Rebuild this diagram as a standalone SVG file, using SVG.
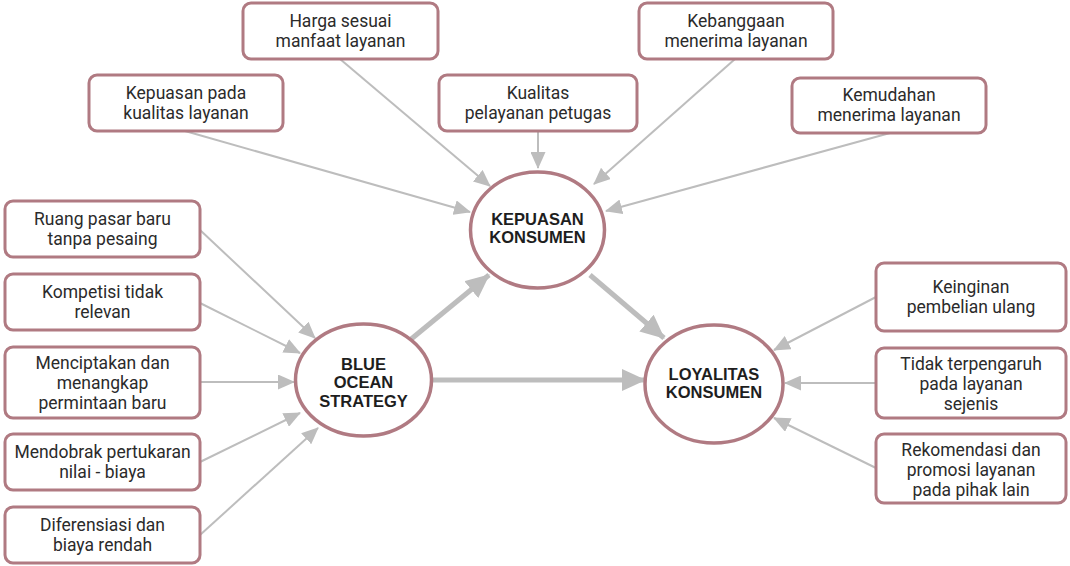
<svg xmlns="http://www.w3.org/2000/svg" width="1070" height="566" viewBox="0 0 1070 566">
  <style>
    .box { fill: #ffffff; stroke: #b07a82; stroke-width: 3; }
    .hub { fill: #ffffff; stroke: #b07a82; stroke-width: 3.5; }
    .lbl { font-family: Roboto, "Liberation Sans", sans-serif; font-size: 17.5px; fill: #2b2b2b; text-anchor: middle; }
    .hubl { font-family: "Liberation Sans", Arial, sans-serif; font-size: 16.5px; font-weight: bold; fill: #1e1e1e; text-anchor: middle; }
    .thin { stroke: #bdbdbd; stroke-width: 2; fill: none; marker-end: url(#ah); }
    .thick { stroke: #bdbdbd; stroke-width: 5; fill: none; marker-end: url(#ahb); }
  </style>
  <defs>
    <marker id="ah" markerUnits="userSpaceOnUse" markerWidth="17" markerHeight="15" refX="16" refY="7.5" orient="auto">
      <path d="M0,0 L17,7.5 L0,15 Z" fill="#bdbdbd"/>
    </marker>
    <marker id="ahb" markerUnits="userSpaceOnUse" markerWidth="24" markerHeight="22" refX="23" refY="11" orient="auto">
      <path d="M0,0 L24,11 L0,22 Z" fill="#bdbdbd"/>
    </marker>
  </defs>
  <rect width="1070" height="566" fill="#ffffff"/>

  <g id="connectors">
    <line class="thin" x1="185" y1="131" x2="470" y2="212"/>
    <line class="thin" x1="340" y1="59" x2="490" y2="186"/>
    <line class="thin" x1="538" y1="131" x2="538" y2="168"/>
    <line class="thin" x1="735" y1="59" x2="594" y2="184"/>
    <line class="thin" x1="890" y1="133" x2="606" y2="211"/>
    <line class="thin" x1="200" y1="230" x2="315" y2="338"/>
    <line class="thin" x1="200" y1="303" x2="300" y2="353"/>
    <line class="thin" x1="200" y1="382" x2="294" y2="382"/>
    <line class="thin" x1="200" y1="462" x2="300" y2="413"/>
    <line class="thin" x1="200" y1="535" x2="318" y2="428"/>
    <line class="thin" x1="876" y1="297" x2="774" y2="350"/>
    <line class="thin" x1="876" y1="383" x2="785" y2="383"/>
    <line class="thin" x1="876" y1="468" x2="774" y2="418"/>
    <line class="thick" x1="410" y1="340" x2="489" y2="275"/>
    <line class="thick" x1="590" y1="275" x2="664" y2="338"/>
    <line class="thick" x1="432" y1="380" x2="645" y2="380"/>
  </g>

  <g id="n-harga">
    <rect class="box" x="243" y="3" width="195" height="56" rx="8"/>
    <text class="lbl" x="340.5" y="27">Harga sesuai</text>
    <text class="lbl" x="340.5" y="47">manfaat layanan</text>
  </g>
  <g id="n-kebanggaan">
    <rect class="box" x="639" y="3" width="194" height="56" rx="8"/>
    <text class="lbl" x="736" y="27">Kebanggaan</text>
    <text class="lbl" x="736" y="47">menerima layanan</text>
  </g>
  <g id="n-kepuasan-pada">
    <rect class="box" x="89" y="75" width="194" height="56" rx="8"/>
    <text class="lbl" x="186" y="99">Kepuasan pada</text>
    <text class="lbl" x="186" y="119">kualitas layanan</text>
  </g>
  <g id="n-kualitas">
    <rect class="box" x="439" y="75" width="198" height="56" rx="8"/>
    <text class="lbl" x="538" y="99">Kualitas</text>
    <text class="lbl" x="538" y="119">pelayanan petugas</text>
  </g>
  <g id="n-kemudahan">
    <rect class="box" x="792" y="78" width="194" height="55" rx="8"/>
    <text class="lbl" x="889" y="101">Kemudahan</text>
    <text class="lbl" x="889" y="121">menerima layanan</text>
  </g>

  <g id="n-ruang">
    <rect class="box" x="5" y="201" width="195" height="56" rx="8"/>
    <text class="lbl" x="102.5" y="225">Ruang pasar baru</text>
    <text class="lbl" x="102.5" y="245">tanpa pesaing</text>
  </g>
  <g id="n-kompetisi">
    <rect class="box" x="5" y="274" width="195" height="56" rx="8"/>
    <text class="lbl" x="102.5" y="298">Kompetisi tidak</text>
    <text class="lbl" x="102.5" y="318">relevan</text>
  </g>
  <g id="n-menciptakan">
    <rect class="box" x="5" y="347" width="195" height="71" rx="8"/>
    <text class="lbl" x="102.5" y="369">Menciptakan dan</text>
    <text class="lbl" x="102.5" y="389">menangkap</text>
    <text class="lbl" x="102.5" y="409">permintaan baru</text>
  </g>
  <g id="n-mendobrak">
    <rect class="box" x="5" y="434" width="195" height="56" rx="8"/>
    <text class="lbl" x="102.5" y="458">Mendobrak pertukaran</text>
    <text class="lbl" x="102.5" y="478">nilai - biaya</text>
  </g>
  <g id="n-diferensiasi">
    <rect class="box" x="5" y="507" width="195" height="56" rx="8"/>
    <text class="lbl" x="102.5" y="531">Diferensiasi dan</text>
    <text class="lbl" x="102.5" y="551">biaya rendah</text>
  </g>

  <g id="n-keinginan">
    <rect class="box" x="876" y="263" width="190" height="68" rx="8"/>
    <text class="lbl" x="971" y="293">Keinginan</text>
    <text class="lbl" x="971" y="313">pembelian ulang</text>
  </g>
  <g id="n-tidak">
    <rect class="box" x="876" y="348" width="190" height="70" rx="8"/>
    <text class="lbl" x="971" y="370">Tidak terpengaruh</text>
    <text class="lbl" x="971" y="390">pada layanan</text>
    <text class="lbl" x="971" y="410">sejenis</text>
  </g>
  <g id="n-rekomendasi">
    <rect class="box" x="876" y="434" width="190" height="69" rx="8"/>
    <text class="lbl" x="971" y="456">Rekomendasi dan</text>
    <text class="lbl" x="971" y="476">promosi layanan</text>
    <text class="lbl" x="971" y="496">pada pihak lain</text>
  </g>

  <g id="n-kepuasan-konsumen">
    <ellipse class="hub" cx="537.5" cy="230" rx="67" ry="58"/>
    <text class="hubl" x="537.5" y="225">KEPUASAN</text>
    <text class="hubl" x="537.5" y="243">KONSUMEN</text>
  </g>
  <g id="n-blue-ocean">
    <ellipse class="hub" cx="363.5" cy="380" rx="68" ry="56"/>
    <text class="hubl" x="363.5" y="370">BLUE</text>
    <text class="hubl" x="363.5" y="388">OCEAN</text>
    <text class="hubl" x="363.5" y="407">STRATEGY</text>
  </g>
  <g id="n-loyalitas">
    <ellipse class="hub" cx="714" cy="384" rx="69" ry="59"/>
    <text class="hubl" x="714" y="380">LOYALITAS</text>
    <text class="hubl" x="714" y="398">KONSUMEN</text>
  </g>
</svg>
